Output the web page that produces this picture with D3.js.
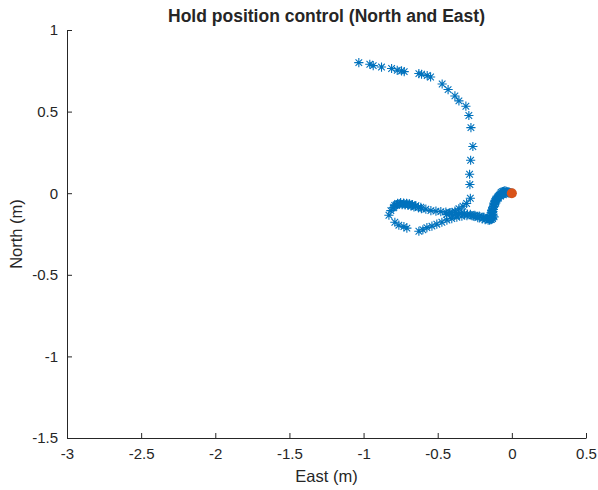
<!DOCTYPE html>
<html>
<head>
<meta charset="utf-8">
<script src="https://cdn.jsdelivr.net/npm/d3@7"></script>
<style>
  html, body { margin: 0; padding: 0; background: #fff; overflow: hidden; }
  svg { display: block; }
  text { font-family: "Liberation Sans", Arial, Helvetica, sans-serif; fill: #262626; }
</style>
</head>
<body>
<svg width="598" height="490"></svg>
<script>
// trajectory (East, North) in metres
const east = [
  -1.032, -0.958, -0.935, -0.879, -0.811, -0.773, -0.744, -0.726, -0.627, -0.609,
  -0.571, -0.548, -0.470, -0.430, -0.384, -0.357, -0.310, -0.290, -0.276, -0.263,
  -0.278, -0.285, -0.283, -0.280, -0.305, -0.330, -0.357, -0.384, -0.411, -0.445,
  -0.479, -0.512, -0.546, -0.580, -0.614, -0.647, -0.674, -0.701, -0.728, -0.755,
  -0.775, -0.796, -0.816, -0.829, -0.789, -0.762, -0.728, -0.708, -0.627, -0.600,
  -0.573, -0.539, -0.506, -0.472, -0.438, -0.405, -0.371, -0.337, -0.303, -0.270,
  -0.243, -0.216, -0.189, -0.162, -0.142, -0.135, -0.128, -0.121, -0.108, -0.088,
  -0.067, -0.040, -0.020, -0.007,
  // denser passes
  -0.790, -0.770, -0.750, -0.730, -0.710, -0.690, -0.670, -0.650, -0.630, -0.610,
  -0.800, -0.780, -0.760, -0.740, -0.720, -0.700, -0.680, -0.660,
  -0.440, -0.400, -0.360, -0.320, -0.280, -0.250, -0.220, -0.190, -0.170, -0.150,
  -0.420, -0.380, -0.340, -0.300, -0.260, -0.230, -0.200, -0.180, -0.160, -0.140,
  -0.130, -0.120, -0.130, -0.125, -0.120, -0.118, -0.115, -0.110, -0.100, -0.095,
  -0.080, -0.070, -0.060, -0.050, -0.030, -0.010, 0.000,
  -0.150, -0.140, -0.132, -0.126, -0.140, -0.136, -0.130, -0.124, -0.116, -0.112,
  -0.106, -0.100, -0.092, -0.085, -0.078, -0.072, -0.064, -0.056, -0.048, -0.040,
  -0.034, -0.026, -0.018, -0.012, -0.145, -0.128, -0.108, -0.090, -0.075, -0.058
];
const north = [
  0.800, 0.790, 0.782, 0.773, 0.764, 0.753, 0.749, 0.745, 0.733, 0.729,
  0.721, 0.712, 0.669, 0.635, 0.596, 0.566, 0.533, 0.476, 0.402, 0.286,
  0.202, 0.116, 0.053, -0.031, -0.063, -0.080, -0.095, -0.110, -0.119, -0.116,
  -0.113, -0.110, -0.107, -0.098, -0.086, -0.077, -0.070, -0.067, -0.064, -0.064,
  -0.070, -0.086, -0.107, -0.135, -0.178, -0.196, -0.205, -0.214, -0.233, -0.224,
  -0.211, -0.202, -0.190, -0.178, -0.165, -0.156, -0.147, -0.141, -0.138, -0.138,
  -0.141, -0.144, -0.147, -0.147, -0.135, -0.110, -0.086, -0.061, -0.037, -0.018,
  -0.006, 0.000, 0.000, 0.000,
  -0.075, -0.062, -0.058, -0.060, -0.062, -0.066, -0.072, -0.080, -0.088, -0.095,
  -0.090, -0.072, -0.068, -0.070, -0.072, -0.074, -0.078, -0.084,
  -0.130, -0.135, -0.130, -0.125, -0.130, -0.135, -0.140, -0.150, -0.155, -0.160,
  -0.120, -0.118, -0.122, -0.128, -0.140, -0.150, -0.158, -0.162, -0.165, -0.160,
  -0.155, -0.145, -0.120, -0.100, -0.080, -0.070, -0.050, -0.045, -0.030, -0.025,
  -0.012, -0.008, -0.003, 0.002, 0.003, 0.002, 0.000,
  -0.165, -0.162, -0.150, -0.135, -0.120, -0.105, -0.095, -0.082, -0.068, -0.055,
  -0.048, -0.035, -0.022, -0.012, -0.004, 0.004, 0.010, 0.012, 0.014, 0.013,
  0.010, 0.008, 0.006, 0.004, -0.150, -0.112, -0.060, -0.030, -0.016, -0.010
];
const target = [[0, 0]];

const xTicks = [-3, -2.5, -2, -1.5, -1, -0.5, 0, 0.5];
const yTicks = [-1.5, -1, -0.5, 0, 0.5, 1];

const svg = d3.select('svg');
const margin = { top: 30, right: 12, bottom: 52, left: 67 };
const width = +svg.attr('width');
const height = +svg.attr('height');
const innerWidth = width - margin.left - margin.right;
const innerHeight = height - margin.top - margin.bottom;

const xscale = d3.scaleLinear().domain([-3, 0.5]).range([0, innerWidth]);
const yscale = d3.scaleLinear().domain([-1.5, 1]).range([innerHeight, 0]);

const g = svg.append('g')
  .attr('transform', `translate(${margin.left},${margin.top})`);

const xAxis = d3.axisBottom(xscale)
  .tickValues(xTicks)
  .tickFormat(d => d)
  .tickSizeInner(-5)
  .tickSizeOuter(0)
  .tickPadding(10);

const yAxis = d3.axisLeft(yscale)
  .tickValues(yTicks)
  .tickFormat(d => d)
  .tickSizeInner(-5)
  .tickSizeOuter(0)
  .tickPadding(9);

const XAxisG = g.append('g')
  .attr('transform', `translate(0,${innerHeight})`)
  .call(xAxis);
const YAxisG = g.append('g').call(yAxis);

[XAxisG, YAxisG].forEach(a => {
  a.selectAll('text').style('font-size', '15px').attr('fill', '#262626');
  a.selectAll('line').attr('stroke', '#262626');
  a.select('.domain').attr('stroke', '#262626');
});

// labels + title
g.append('text')
  .text('East (m)')
  .attr('x', innerWidth / 2)
  .attr('y', innerHeight + 44)
  .attr('text-anchor', 'middle')
  .style('font-size', '16.5px');

g.append('text')
  .text('North (m)')
  .attr('transform', 'rotate(-90)')
  .attr('x', -innerHeight / 2)
  .attr('y', -45)
  .attr('text-anchor', 'middle')
  .style('font-size', '16.5px');

g.append('text')
  .text('Hold position control (North and East)')
  .attr('x', innerWidth / 2)
  .attr('y', -8)
  .attr('text-anchor', 'middle')
  .style('font-size', '17.5px')
  .style('font-weight', 'bold')
  .attr('fill', '#000');

// asterisk markers
const pts = east.map((e, i) => [e, north[i]]);
const r = 4.6, d = 3.3;
const star = `M${-r},0H${r}M0,${-r}V${r}M${-d},${-d}L${d},${d}M${-d},${d}L${d},${-d}`;

g.append('g').selectAll('path').data(pts)
  .enter().append('path')
    .attr('transform', p => `translate(${xscale(p[0])},${yscale(p[1])})`)
    .attr('d', star)
    .attr('fill', 'none')
    .attr('stroke', '#0072BD')
    .attr('stroke-width', 1.1);

g.selectAll('circle.target').data(target)
  .enter().append('circle')
    .attr('class', 'target')
    .attr('cx', p => xscale(p[0]))
    .attr('cy', p => yscale(p[1]))
    .attr('r', 5)
    .attr('fill', '#D95319');
</script>
</body>
</html>
